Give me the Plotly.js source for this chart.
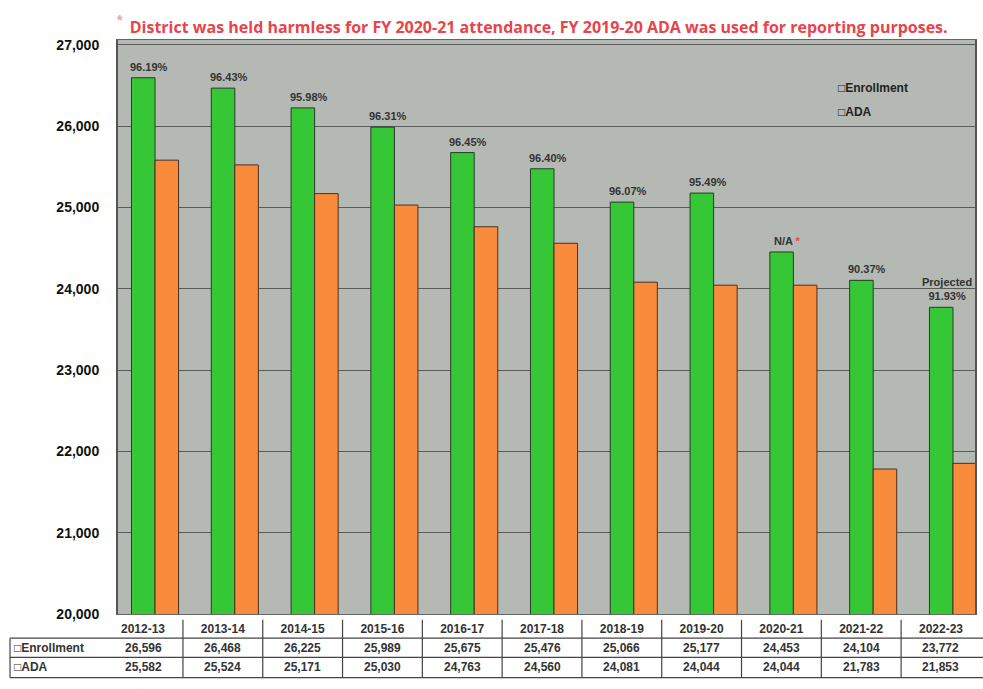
<!DOCTYPE html>
<html>
<head>
<meta charset="utf-8">
<script src="https://cdn.plot.ly/plotly-3.0.1.min.js"></script>
<style>html,body{margin:0;padding:0;background:#fff;}#chart{width:983px;height:689px;}</style>
</head>
<body>
<div id="chart"></div>
<script>
const categories = ["2012-13","2013-14","2014-15","2015-16","2016-17","2017-18","2018-19","2019-20","2020-21","2021-22","2022-23"];
const enrollment = [26596,26468,26225,25989,25675,25476,25066,25177,24453,24104,23772];
const ada = [25582,25524,25171,25030,24763,24560,24081,24044,24044,21783,21853];
const pctLabels = ["96.19%","96.43%","95.98%","96.31%","96.45%","96.40%","96.07%","95.49%","N/A <span style='color:#e8444a'>*</span>","90.37%","Projected<br>91.93%"];
const seriesNames = ["Enrollment","ADA"];
const titleText = "District was held harmless for FY 2020-21 attendance, FY 2019-20 ADA was used for reporting purposes.";
const yTicks = [20000,21000,22000,23000,24000,25000,26000,27000];

const fmt = v => v.toLocaleString("en-US");
const boldFont = "Liberation Sans, Arial, sans-serif";
const narrowFont = "Liberation Sans Narrow, Liberation Sans, Arial, sans-serif";

const traces = [
  {type:"bar", name:seriesNames[0], x:categories, y:enrollment,
   marker:{color:"#36c736", line:{color:"#2a3a2a", width:1}}, hoverinfo:"x+y"},
  {type:"bar", name:seriesNames[1], x:categories, y:ada,
   marker:{color:"#f98c3c", line:{color:"#4a3020", width:1}}, hoverinfo:"x+y"}
];

const annotations = [];
categories.forEach((c,i)=>{
  annotations.push({x:c, y:enrollment[i], xref:"x", yref:"y", text:"<b>"+pctLabels[i]+"</b>",
    showarrow:false, yanchor:"bottom", xshift:-6, yshift:3,
    font:{family:narrowFont, size:11, color:"#333"}});
});
categories.forEach((c,i)=>{
  annotations.push({x:c, y:-0.0598, xref:"x", yref:"paper", text:"<b>"+fmt(enrollment[i])+"</b>",
    showarrow:false, xshift:-12, yanchor:"middle", font:{family:boldFont, size:12, color:"#333"}});
  annotations.push({x:c, y:-0.093, xref:"x", yref:"paper", text:"<b>"+fmt(ada[i])+"</b>",
    showarrow:false, xshift:-12, yanchor:"middle", font:{family:boldFont, size:12, color:"#333"}});
});
annotations.push({x:-0.124, y:-0.0598, xref:"paper", yref:"paper", xanchor:"left", yanchor:"middle",
  text:"<b>□"+seriesNames[0]+"</b>", showarrow:false, font:{family:boldFont, size:12, color:"#333"}});
annotations.push({x:-0.124, y:-0.093, xref:"paper", yref:"paper", xanchor:"left", yanchor:"middle",
  text:"<b>□"+seriesNames[1]+"</b>", showarrow:false, font:{family:boldFont, size:12, color:"#333"}});
annotations.push({x:0.838, y:0.916, xref:"paper", yref:"paper", xanchor:"left", yanchor:"middle",
  text:"<b>□"+seriesNames[0]+"</b>", showarrow:false, font:{family:boldFont, size:12, color:"#222"}});
annotations.push({x:0.838, y:0.874, xref:"paper", yref:"paper", xanchor:"left", yanchor:"middle",
  text:"<b>□"+seriesNames[1]+"</b>", showarrow:false, font:{family:boldFont, size:12, color:"#222"}});
annotations.push({x:-0.004, y:1.035, xref:"paper", yref:"paper", xanchor:"left", yanchor:"middle",
  text:"<b>*</b>", showarrow:false, font:{family:boldFont, size:14, color:"#f0a0a0"}});

const shapes = [];
const lineStyle = {color:"#444", width:1.2};
[-0.0422,-0.0756,-0.1107].forEach(yv=>{
  shapes.push({type:"line", xref:"paper", yref:"paper", x0:-0.126, x1:1.02, y0:yv, y1:yv, line:lineStyle});
});
categories.forEach((c,i)=>{
  shapes.push({type:"line", xref:"x", yref:"paper", x0:i-0.65, x1:i-0.65, y0:-0.01, y1:-0.1107, line:lineStyle});
});
shapes.push({type:"line", xref:"paper", yref:"paper", x0:-0.126, x1:-0.126, y0:-0.0422, y1:-0.1107, line:lineStyle});

const layout = {
  width:983, height:689,
  margin:{l:118, r:8, t:40, b:75},
  paper_bgcolor:"#ffffff",
  plot_bgcolor:"#b4b9b4",
  showlegend:false,
  barmode:"group",
  bargap:0.41, bargroupgap:0,
  title:{text:"<b>"+titleText+"</b>", x:0.548, xref:"container", y:0.96, yref:"container",
    xanchor:"center", yanchor:"middle",
    font:{family:"Open Sans, Liberation Sans, sans-serif", size:16, color:"#e8444a"}},
  xaxis:{type:"category", range:[-0.464,10.276], showgrid:false,
    tickvals:categories, ticktext:categories.map(c=>"<b>"+c+"</b>"),
    showline:true, mirror:true, linecolor:"#666", linewidth:1,
    ticks:"", tickfont:{family:boldFont, size:12, color:"#333"},
    ticklabelshift:-12, ticklabelstandoff:4, fixedrange:true},
  yaxis:{range:[20000,27060], tickvals:yTicks, ticktext:yTicks.map(v=>"<b>"+fmt(v)+"</b>"),
    showgrid:true, gridcolor:"#5a5a5a", gridwidth:1,
    showline:true, mirror:true, linecolor:"#555", linewidth:2,
    ticks:"", ticklabelstandoff:14,
    tickfont:{family:boldFont, size:14, color:"#111"}, zeroline:false, fixedrange:true},
  annotations:annotations,
  shapes:shapes
};

Plotly.newPlot("chart", traces, layout, {displayModeBar:false, staticPlot:true});
</script>
</body>
</html>
